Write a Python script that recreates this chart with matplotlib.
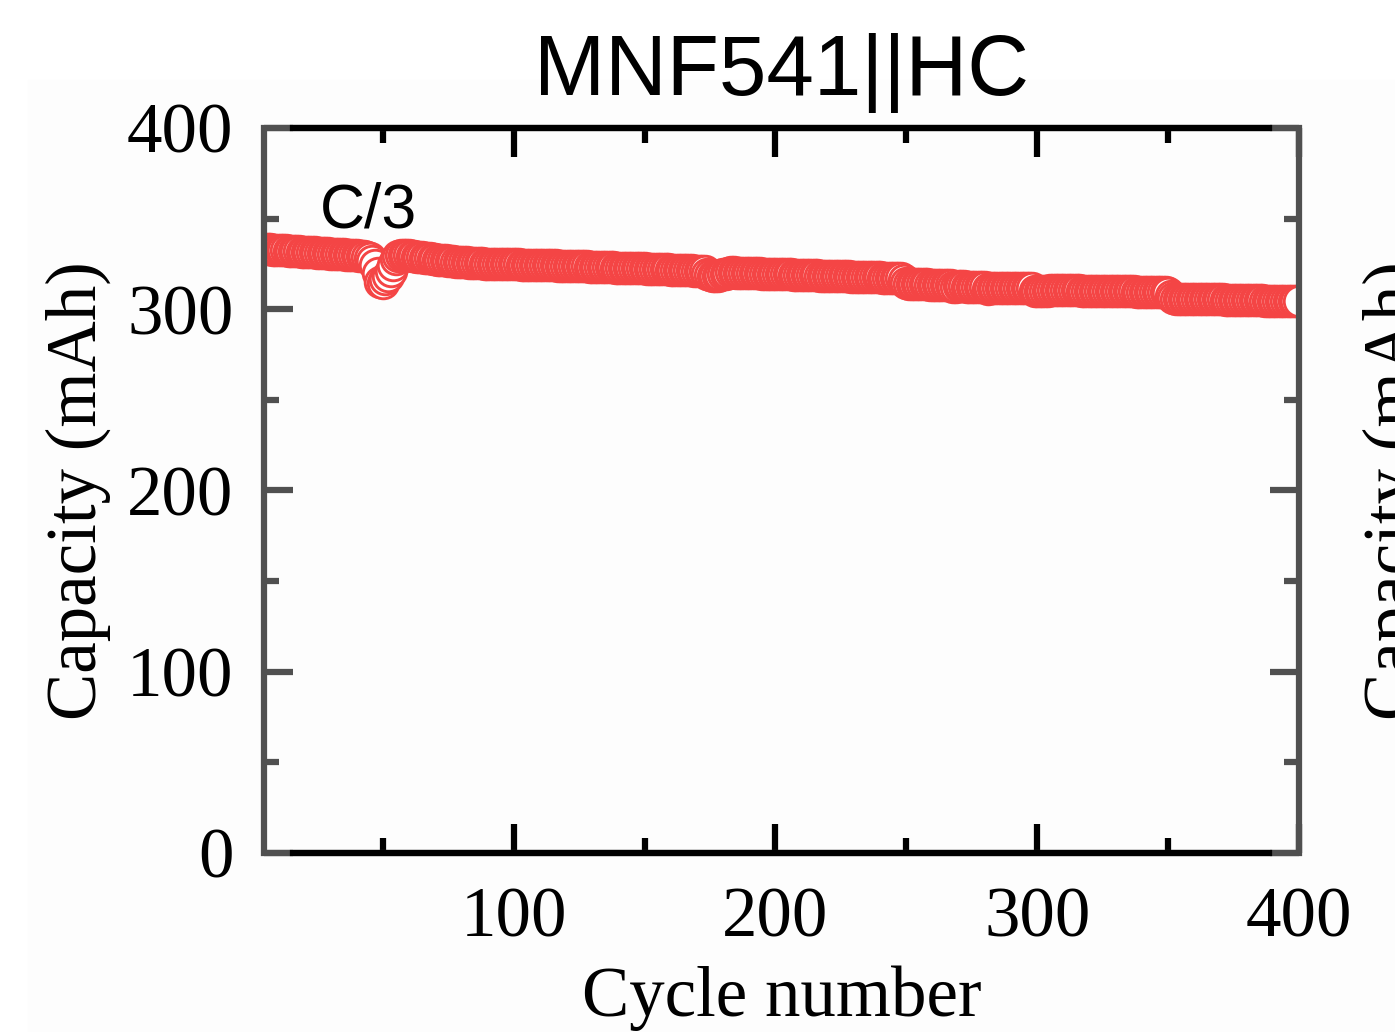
import matplotlib
matplotlib.use("Agg")
import matplotlib.pyplot as plt
from matplotlib.patches import Rectangle
from matplotlib.ticker import MultipleLocator
import numpy as np

# capacity (mAh) for cycles 1..400
capacity = [
    333.6, 333.5, 333.4, 333.3, 333.2, 333.1, 333.0, 332.9, 332.8, 332.7,
    332.6, 332.5, 332.4, 332.3, 332.2, 332.1, 332.0, 331.9, 331.8, 331.7,
    331.6, 331.5, 331.4, 331.3, 331.2, 331.1, 331.0, 330.9, 330.8, 330.7,
    330.6, 330.5, 330.4, 330.3, 330.2, 330.1, 330.0, 329.9, 329.8, 329.7,
    329.6, 329.5, 329.4, 329.0, 328.2, 326.8, 324.5, 320.0, 315.0, 314.5,
    316.5, 318.5, 321.0, 324.5, 327.5, 329.2, 329.8, 329.9, 329.8, 329.7,
    329.4, 329.2, 329.0, 328.8, 328.6, 328.4, 328.2, 328.0, 327.8, 327.6,
    327.4, 327.2, 327.0, 326.9, 326.7, 326.6, 326.4, 326.3, 326.2, 326.0,
    325.9, 325.8, 325.7, 325.6, 325.5, 325.4, 325.4, 325.3, 325.2, 325.2,
    325.1, 325.1, 325.0, 325.0, 324.9, 324.9, 324.8, 324.8, 324.8, 324.7,
    324.7, 324.7, 324.6, 324.6, 324.6, 324.5, 324.5, 324.5, 324.4, 324.4,
    324.4, 324.3, 324.3, 324.3, 324.2, 324.2, 324.1, 324.1, 324.0, 324.0,
    323.9, 323.9, 323.8, 323.8, 323.7, 323.7, 323.6, 323.6, 323.5, 323.5,
    323.4, 323.4, 323.3, 323.3, 323.2, 323.2, 323.1, 323.1, 323.0, 323.0,
    322.9, 322.9, 322.8, 322.8, 322.7, 322.7, 322.6, 322.6, 322.5, 322.5,
    322.4, 322.4, 322.3, 322.3, 322.2, 322.2, 322.1, 322.0, 322.0, 321.9,
    321.9, 321.8, 321.7, 321.7, 321.6, 321.5, 321.5, 321.4, 321.3, 321.3,
    321.2, 321.1, 321.0, 319.3, 318.8, 318.6, 318.5, 318.6, 318.8, 319.2,
    319.6, 320.2, 320.3, 320.3, 320.2, 320.2, 320.1, 320.1, 320.0, 320.0,
    319.9, 319.9, 319.8, 319.8, 319.7, 319.7, 319.6, 319.6, 319.5, 319.5,
    319.4, 319.4, 319.3, 319.3, 319.2, 319.2, 319.1, 319.1, 319.0, 319.0,
    318.9, 318.9, 318.8, 318.8, 318.7, 318.7, 318.6, 318.6, 318.5, 318.5,
    318.4, 318.4, 318.3, 318.3, 318.2, 318.2, 318.1, 318.1, 318.0, 318.0,
    317.9, 317.9, 317.8, 317.8, 317.7, 317.7, 317.6, 317.6, 317.5, 317.5,
    317.4, 317.4, 317.3, 317.3, 317.2, 317.2, 317.1, 317.0, 316.0, 314.5,
    314.0, 314.0, 313.9, 313.9, 313.8, 313.8, 313.7, 313.7, 313.6, 313.6,
    313.5, 313.5, 313.4, 313.4, 313.3, 313.3, 313.2, 312.2, 312.4, 312.6,
    312.6, 312.6, 312.5, 312.5, 312.5, 312.4, 312.4, 312.4, 312.3, 312.3,
    311.3, 311.6, 311.8, 311.9, 311.9, 311.9, 311.8, 311.8, 311.8, 311.7,
    311.7, 311.7, 311.6, 311.6, 311.6, 311.5, 311.5, 311.5, 309.8, 310.0,
    310.1, 310.2, 310.3, 310.3, 310.4, 310.4, 310.4, 310.8, 310.6, 310.5,
    310.5, 310.5, 310.4, 310.4, 310.4, 310.4, 310.3, 310.3, 310.3, 310.3,
    310.2, 310.2, 310.2, 310.2, 310.1, 310.1, 310.1, 310.0, 310.0, 310.0,
    310.0, 309.9, 309.9, 309.9, 309.8, 309.8, 309.8, 309.7, 309.7, 309.7,
    309.6, 309.6, 309.6, 309.5, 309.5, 309.5, 309.4, 309.4, 309.3, 309.0,
    307.5, 306.0, 305.5, 305.6, 305.7, 305.8, 305.8, 305.8, 305.7, 305.7,
    305.7, 305.6, 305.6, 305.6, 305.5, 305.5, 305.5, 305.5, 305.4, 305.4,
    305.4, 305.3, 305.3, 305.3, 305.2, 305.2, 305.2, 305.1, 305.1, 305.1,
    305.0, 305.0, 305.0, 304.9, 304.9, 304.9, 304.8, 304.8, 304.8, 304.7,
    304.7, 304.7, 304.6, 304.6, 304.6, 304.5, 304.5, 304.5, 304.4, 304.4,
]
cycles = np.arange(1, len(capacity) + 1)

x_ticks = [100, 200, 300, 400]
y_ticks = [0, 100, 200, 300, 400]

red = "#F44545"
gray = "#505050"
serif = "Liberation Serif"
sans = "Liberation Sans"

fig = plt.figure(figsize=(13.95, 10.32), dpi=100)
fig.patches.append(Rectangle((0.02, 0), 0.98, 0.9225, transform=fig.transFigure,
                             color="#fdfdfd", zorder=-10))
ax = fig.add_axes([0.1892, 0.1735, 0.742, 0.7025])
ax.set_facecolor("none")

ax.plot(cycles, capacity, linestyle="none", marker="o", markersize=22,
        markerfacecolor="white", markeredgecolor=red, markeredgewidth=2.1)

ax.set_xlim(4.6, 400)
ax.set_ylim(0, 400)
ax.set_xticks(x_ticks)
ax.set_yticks(y_ticks)
ax.xaxis.set_minor_locator(MultipleLocator(50))
ax.yaxis.set_minor_locator(MultipleLocator(50))

# gray frame with black stretches on top and bottom
frame = Rectangle((0, 0), 1, 1, transform=ax.transAxes, fill=False,
                  edgecolor=gray, linewidth=4.5, joinstyle="miter",
                  clip_on=False, zorder=2.4)
ax.add_patch(frame)
for side in ["left", "right"]:
    ax.spines[side].set_visible(False)
for side in ["top", "bottom"]:
    ax.spines[side].set_color("black")
    ax.spines[side].set_linewidth(4.5)
    ax.spines[side].set_bounds(15.6, 388.5)

ax.tick_params(axis="x", which="both", direction="in", top=True, bottom=True,
               color="black", width=4.5, pad=24, labelsize=51)
ax.tick_params(axis="y", which="both", direction="in", left=True, right=True,
               color=gray, width=4.5, pad=22, labelsize=51)
ax.tick_params(which="major", length=21)
ax.tick_params(which="minor", length=10.5)
for lab in ax.get_xticklabels() + ax.get_yticklabels():
    lab.set_fontfamily(serif)

ax.set_xlabel("Cycle number", fontsize=51, fontfamily=serif)
ax.xaxis.set_label_coords(0.5, -0.155)
ax.set_ylabel("Capacity (mAh)", fontsize=51, fontfamily=serif)
ax.yaxis.set_label_coords(-0.148, 0.5)

ax.set_title("MNF541||HC", fontsize=61.5, fontfamily=sans, pad=24)
ax.text(26, 345, "C/3", fontsize=45, fontfamily=sans)

# label of the neighbouring panel, cut by the right edge
fig.text(1.0, 0.525, "Capacity (mAh)", rotation=90, ha="center", va="center",
         fontsize=51, fontfamily=serif)

fig.savefig("out.png", dpi=100)
